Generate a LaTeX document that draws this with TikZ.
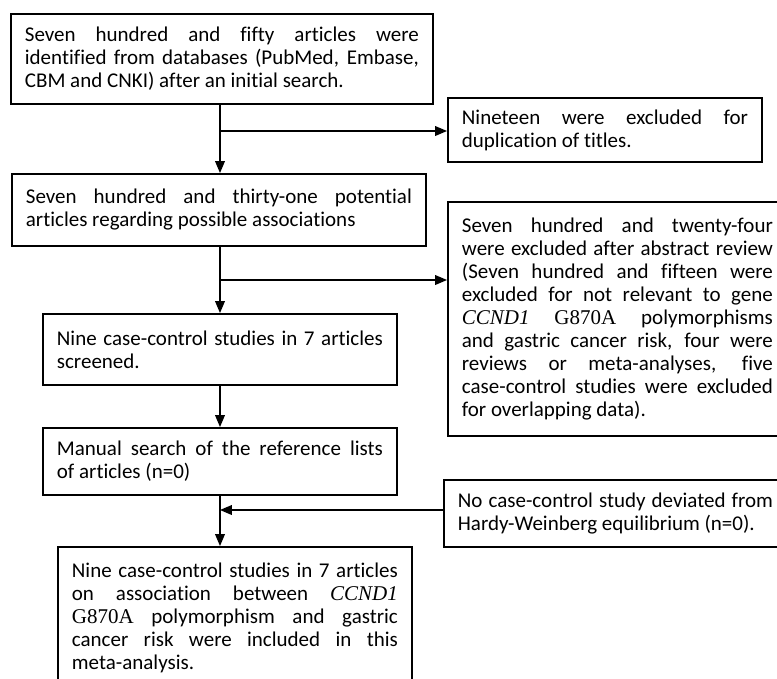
\documentclass[tikz,border=0pt]{standalone}
\usepackage{fontspec}
\setmainfont{Carlito}[Ligatures=NoCommon]
\newfontfamily\timesfont{Liberation Serif}
\usepackage{tikz}
\usetikzlibrary{arrows}
\newcommand{\ccnd}{{\timesfont\itshape CCND1}}
\newcommand{\gene}{{\timesfont G870A}}
\hyphenpenalty=10000
\exhyphenpenalty=10000
\tolerance=10000
\hbadness=10000

\begin{document}
\begin{tikzpicture}[x=1pt,y=-1pt,>=triangle 45]
			\tikzstyle{box} = [draw=black,line width=1.8pt,rectangle,anchor=north west,inner xsep=14pt,inner ysep=0pt,
				align=justify,font=\fontsize{21}{23}\selectfont];
			\tikzstyle{flow} = [line width=1.8pt];
			\useasboundingbox (0,0) rectangle (777,678);
			% main column
			\node[box,text width=394pt,minimum height=90pt] (found) at (10,13)
				{Seven hundred and fifty articles were\linebreak identified from databases (PubMed, Embase,\linebreak CBM and CNKI) after an initial search.};
			\node[box,text width=386pt,minimum height=72pt] (potential) at (11,173)
				{Seven hundred and thirty-one potential\linebreak articles regarding possible associations};
			\node[box,text width=326pt,minimum height=71pt] (screened) at (42,313)
				{Nine case-control studies in 7 articles\linebreak screened.};
			\node[box,text width=326pt,minimum height=67pt] (manual) at (42,427)
				{Manual search of the reference lists\linebreak of articles (n=0)};
			\node[box,text width=326pt,minimum height=142pt] (included) at (57,546)
				{Nine case-control studies in 7 articles\linebreak on association between \ccnd\linebreak \gene\ polymorphism and gastric\linebreak cancer risk were included in this\linebreak meta-analysis.};
			% side column
			\node[box,text width=286pt,minimum height=64pt] (dupl) at (447,97)
				{Nineteen were excluded for\linebreak duplication of titles.};
			\node[box,text width=311pt,minimum height=234pt] (abstract) at (447,201)
				{Seven hundred and twenty-four\linebreak were excluded after abstract review\linebreak (Seven hundred and fifteen were\linebreak excluded for not relevant to gene\linebreak \ccnd\ \gene\ polymorphisms\linebreak and gastric cancer risk, four were\linebreak reviews or meta-analyses, five\linebreak case-control studies were excluded\linebreak for overlapping data).};
			\node[box,text width=315pt,minimum height=67pt] (hwe) at (443,479)
				{No case-control study deviated from\linebreak Hardy-Weinberg equilibrium (n=0).};
			% junctions on the spine
			\coordinate (j1) at (220,131);
			\coordinate (j2) at (220,280);
			\coordinate (j3) at (220,510);
			\draw[->,flow] (found.south -| j1) -- (potential.north -| j1);
			\draw[->,flow] (j1) -- (j1 -| dupl.west);
			\draw[->,flow] (potential.south -| j2) -- (screened.north -| j2);
			\draw[->,flow] (j2) -- (j2 -| abstract.west);
			\draw[->,flow] (screened.south -| j2) -- (manual.north -| j2);
			\draw[->,flow] (manual.south -| j3) -- (included.north -| j3);
			\draw[->,flow] (j3 -| hwe.west) -- (j3);
		\end{tikzpicture}
\end{document}
